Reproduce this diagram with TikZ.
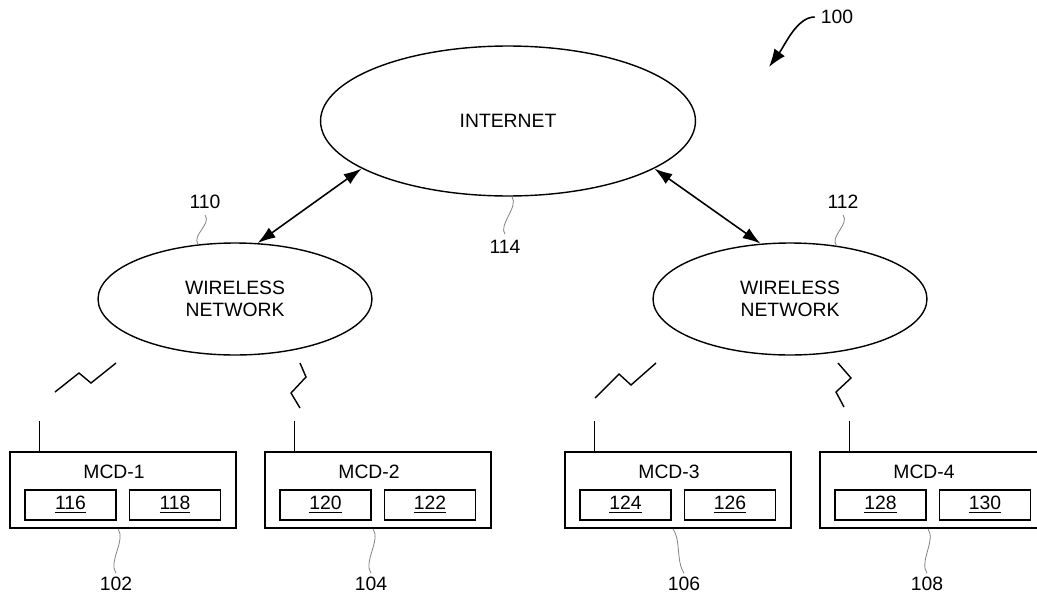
\documentclass[tikz,border=0pt]{standalone}
\usepackage{fontspec}
\setmainfont{Liberation Sans}
\usetikzlibrary{arrows.meta, shapes.geometric, calc}

\begin{document}
\begin{tikzpicture}[x=0.02cm, y=-0.02cm,
  font=\fontsize{11}{12.5}\selectfont,
  cloud/.style={draw, ellipse, line width=0.8pt, inner sep=0pt, align=center},
  device/.style={draw, line width=0.8pt, minimum width=4.52cm, minimum height=1.52cm, inner sep=0pt},
  part/.style={draw, line width=0.8pt, minimum width=1.82cm, minimum height=0.6cm, inner sep=0pt},
  link/.style={{Latex[length=3.6mm,width=2.4mm]}-{Latex[length=3.6mm,width=2.4mm]}, line width=0.9pt},
  lead/.style={gray, line width=0.45pt},
  bolt/.style={line width=0.8pt}]

\useasboundingbox (0,0) rectangle (1037,595);
\clip (0,0) rectangle (1037,595);

% Internet
\node[cloud, minimum width=7.5cm, minimum height=3cm] (inet) at (508,121) {INTERNET};

% Wireless networks
\node[cloud, minimum width=5.48cm, minimum height=2.24cm] (wlan1) at (235,299) {WIRELESS\\NETWORK};
\node[cloud, minimum width=5.48cm, minimum height=2.24cm] (wlan2) at (790,299) {WIRELESS\\NETWORK};

% Links to the internet
\draw[link] (wlan1.68) -- (inet.198);
\draw[link] (wlan2.118) -- (inet.342);

% Reference numerals of the networks
\node (r110) at (205,202) {110};
\draw[lead] (r110.south) .. controls +(7,9) and +(-7,-9) .. (wlan1.124);
\node (r112) at (843,202) {112};
\draw[lead] (r112.south) .. controls +(7,9) and +(-7,-9) .. (wlan2.49);
\node (r114) at (505,247) {114};
\draw[lead] (inet.273) .. controls +(7,10) and +(-7,-9) .. (r114.north);

% Mobile communication devices
\foreach \n/\x/\a/\b/\r/\rx in {1/123/116/118/102/116, 2/378/120/122/104/371,
                                 3/678/124/126/106/684, 4/933/128/130/108/927} {
  \node[device] (mcd\n) at (\x,490) {};
  \node (name\n) at ($(mcd\n.north)+(-9,21)$) {MCD-\n};
  \node[part] (p\a) at ($(mcd\n.center)+(-52.5,15)$) {\underline{\a}};
  \node[part] (p\b) at ($(mcd\n.center)+(52,15)$) {\underline{\b}};
  \node[inner sep=2pt] (r\r) at (\rx,584) {\r};
  \draw[lead] ($(mcd\n.south)+(-5,0)$) .. controls +(8,12) and +(-8,-12) .. (r\r.north);
  % antenna
  \draw[line width=0.8pt] ($(mcd\n.north west)+(30,0)$) -- ++(0,-30) coordinate (ant\n);
}

% Radio links
\draw[bolt] (55,392) -- (79,373) -- (91,383) -- (116,363);
\draw[bolt] (300,363) -- (306,377) -- (291,393) -- (300,408);
\draw[bolt] (595,398) -- (619,374) -- (631,385) -- (656,363);
\draw[bolt] (838,363) -- (851,378) -- (836,392) -- (844,407);

% Figure number
\node (r100) at (837,17) {100};
\coordinate (fig) at (769,67);
\draw[line width=0.9pt, -{Latex[length=3.6mm,width=2.6mm]}] (r100.west) .. controls (797,17) and (785,45) .. (fig);
\end{tikzpicture}
\end{document}
